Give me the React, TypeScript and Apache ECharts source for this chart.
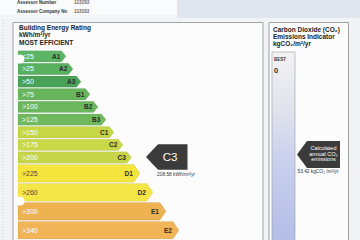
import React, { useEffect, useRef } from 'react';
import * as echarts from 'echarts';

// ---- data ----
const grades = ['A1', 'A2', 'A3', 'B1', 'B2', 'B3', 'C1', 'C2', 'C3', 'D1', 'D2', 'E1', 'E2'];
const thresholds = ['<25', '>25', '>50', '>75', '>100', '>125', '>150', '>175', '>200', '>225', '>260', '>300', '>340'];
const barLengths = [48, 55, 63, 72, 80, 88, 96, 105, 113.5, 122, 135, 148, 161];
const rating = 'C3';
const ratingValue = 208.58;
const co2Best = 0;
const co2Value = 53.42;

// ---- palette ----
const bandColors = ['#5cb565', '#58b060', '#48a258', '#68b65c', '#6cb75d', '#70b95f', '#c6d746', '#c9d846', '#c6d648', '#f4e53c', '#f5e647', '#efb251', '#f1b456'];

const FONT = '"Liberation Sans", Arial, sans-serif';
const rowWeight = (i: number) => (grades[i][0] >= 'D' ? 1.5 : 1);
const rowStart = (i: number) => {
  let s = 0;
  for (let k = 0; k < i; k++) s += rowWeight(k);
  return s;
};
const totalRows = grades.reduce((s, _, i) => s + rowWeight(i), 0);

export default function App() {
  const ref = useRef<HTMLDivElement>(null);
  useEffect(() => {
    if (!ref.current) return;
    const chart = echarts.init(ref.current, undefined, { renderer: 'svg' });
    const ratingIdx = grades.indexOf(rating);

    const option: any = {
      animation: false,
      backgroundColor: '#f1f3f6',
      grid: [
        { left: 18, top: 50, width: 330, height: totalRows * 12.65 },
        { left: 272, top: 52, width: 23, height: 188 },
      ],
      xAxis: [
        { type: 'value', min: 0, max: 330, show: false, gridIndex: 0 },
        { type: 'value', min: 0, max: 1, show: false, gridIndex: 1 },
      ],
      yAxis: [
        { type: 'value', min: 0, max: totalRows, inverse: true, show: false, gridIndex: 0 },
        { type: 'value', min: 0, max: 98, inverse: true, show: false, gridIndex: 1 },
      ],
      graphic: [
        // header
        { type: 'rect', shape: { x: 0, y: 0, width: 177, height: 15 }, style: { fill: '#fafbfc' }, z: 0 },
        { type: 'rect', shape: { x: 177, y: 0, width: 183, height: 18 }, style: { fill: '#dfe6ee' }, z: 0 },
        { type: 'line', shape: { x1: 3, y1: 20, x2: 3, y2: 240 }, style: { stroke: '#c3c7ce', lineWidth: 0.8, lineDash: [1, 2] }, z: 0 },
        { type: 'text', x: 17, y: 2.5, style: { text: 'Assessor Number', font: `bold 4.6px ${FONT}`, fill: '#333333', verticalAlign: 'middle' }, z: 1 },
        { type: 'text', x: 74, y: 2.5, style: { text: '103093', font: `4.6px ${FONT}`, fill: '#333333', verticalAlign: 'middle' }, z: 1 },
        { type: 'text', x: 17, y: 11, style: { text: 'Assessor Company No', font: `bold 4.6px ${FONT}`, fill: '#333333', verticalAlign: 'middle' }, z: 1 },
        { type: 'text', x: 74, y: 11, style: { text: '103093', font: `4.6px ${FONT}`, fill: '#333333', verticalAlign: 'middle' }, z: 1 },
        // panels
        { type: 'rect', shape: { x: 13, y: 22.5, width: 250, height: 240 }, style: { fill: '#fcfcfc', stroke: '#8c8c8c', lineWidth: 0.8 }, z: 0 },
        { type: 'rect', shape: { x: 269, y: 22.5, width: 79.5, height: 240 }, style: { fill: '#fcfcfc', stroke: '#8c8c8c', lineWidth: 0.8 }, z: 0 },
        // left panel titles
        { type: 'text', x: 19, y: 27, style: { text: 'Building Energy Rating', font: `bold 6.5px ${FONT}`, fill: '#222222', verticalAlign: 'middle' }, z: 1 },
        { type: 'text', x: 19, y: 34.5, style: { text: 'kWh/m²/yr', font: `bold 6.5px ${FONT}`, fill: '#222222', verticalAlign: 'middle' }, z: 1 },
        { type: 'text', x: 19, y: 42.5, style: { text: 'MOST EFFICIENT', font: `bold 6.5px ${FONT}`, fill: '#222222', verticalAlign: 'middle' }, z: 1 },
        // right panel titles
        { type: 'text', x: 273, y: 29, style: { text: 'Carbon Dioxide (CO₂)', font: `bold 6.5px ${FONT}`, fill: '#222222', verticalAlign: 'middle' }, z: 1 },
        { type: 'text', x: 273, y: 36, style: { text: 'Emissions Indicator', font: `bold 6.5px ${FONT}`, fill: '#222222', verticalAlign: 'middle' }, z: 1 },
        { type: 'text', x: 273, y: 43, style: { text: 'kgCO₂/m²/yr', font: `bold 6.5px ${FONT}`, fill: '#222222', verticalAlign: 'middle' }, z: 1 },
        // CO2 bar
        {
          type: 'rect', shape: { x: 272, y: 52, width: 23, height: 200 },
          style: {
            fill: new echarts.graphic.LinearGradient(0, 0, 0, 1, [
              { offset: 0, color: '#f3f3f5' },
              { offset: 0.3, color: '#e0e2ec' },
              { offset: 0.55, color: '#c9d0ee' },
              { offset: 1, color: '#b0bbe6' },
            ]),
            stroke: '#9a9aa6', lineWidth: 0.6,
          }, z: 1,
        },
        { type: 'text', x: 274, y: 59, style: { text: 'BEST', font: `bold 4.5px ${FONT}`, fill: '#333', verticalAlign: 'middle' }, z: 2 },
        { type: 'text', x: 274, y: 70, style: { text: String(co2Best), font: `bold 7.5px ${FONT}`, fill: '#333', verticalAlign: 'middle' }, z: 2 },
        // punch holes
        { type: 'circle', shape: { cx: 20, cy: 59, r: 4.5 }, style: { fill: '#ffffff' }, z: 100 },
        { type: 'circle', shape: { cx: 20, cy: 201, r: 4.5 }, style: { fill: '#ffffff' }, z: 100 },
      ],
      series: [
        {
          type: 'custom',
          xAxisIndex: 0,
          yAxisIndex: 0,
          data: barLengths.map((v, i) => [i, v]),
          renderItem: (params: any, api: any) => {
            const i = api.value(0);
            const len = api.value(1);
            const start = rowStart(i);
            const w = rowWeight(i);
            const p0 = api.coord([0, start]);
            const p1 = api.coord([len, start + w]);
            const x0 = p0[0];
            const xEnd = p1[0];
            const y0 = p0[1] + 0.65;
            const y1 = p1[1] - 0.65;
            const ym = (y0 + y1) / 2;
            const tip = 2 + (y1 - y0) * 0.23;
            const darkRange = grades[i][0] === 'D';
            return {
              type: 'group',
              children: [
                {
                  type: 'polygon',
                  shape: { points: [[x0, y0], [xEnd - tip, y0], [xEnd, ym], [xEnd - tip, y1], [x0, y1]] },
                  style: { fill: bandColors[i], stroke: 'rgba(0,0,0,0.12)', lineWidth: 0.5 },
                },
                {
                  type: 'text', x: x0 + 4, y: ym,
                  style: { text: thresholds[i], fill: darkRange ? '#4a4a3a' : '#ffffff', font: `7px ${FONT}`, align: 'left', verticalAlign: 'middle' },
                },
                {
                  type: 'text', x: xEnd - tip - 1, y: ym,
                  style: { text: grades[i], fill: '#2b2b2b', font: `bold 6.5px ${FONT}`, align: 'right', verticalAlign: 'middle' },
                },
              ],
            };
          },
          z: 3,
        },
        {
          type: 'custom',
          xAxisIndex: 0,
          yAxisIndex: 0,
          data: [[ratingIdx, ratingValue]],
          renderItem: (params: any, api: any) => {
            const i = api.value(0);
            const val = api.value(1);
            const c = api.coord([barLengths[i], rowStart(i) + rowWeight(i) / 2]);
            const xt = c[0] + 14.5;
            const ym = c[1] - 0.5;
            const h = 12.75;
            return {
              type: 'group',
              children: [
                {
                  type: 'polygon',
                  shape: { points: [[xt, ym], [xt + 12, ym - h], [xt + 41.5, ym - h], [xt + 41.5, ym + h], [xt + 12, ym + h]] },
                  style: { fill: '#3b3b3b' },
                },
                {
                  type: 'text', x: xt + 24, y: ym,
                  style: { text: grades[i], fill: '#ffffff', font: `11.5px ${FONT}`, align: 'center', verticalAlign: 'middle' },
                },
                {
                  type: 'text', x: xt + 30, y: ym + 17.5,
                  style: { text: `${val.toFixed(2)} kWh/m²/yr`, fill: '#333333', font: `4.8px ${FONT}`, align: 'center', verticalAlign: 'middle' },
                },
              ],
            };
          },
          z: 4,
        },
        {
          type: 'custom',
          xAxisIndex: 1,
          yAxisIndex: 1,
          data: [[1, co2Value]],
          renderItem: (params: any, api: any) => {
            const val = api.value(1);
            const c = api.coord([api.value(0), val]);
            const xt = c[0] + 2;
            const ym = c[1];
            const h = 13.4;
            return {
              type: 'group',
              children: [
                {
                  type: 'polygon',
                  shape: { points: [[xt, ym], [xt + 10, ym - h], [xt + 43, ym - h], [xt + 43, ym + h], [xt + 10, ym + h]] },
                  style: { fill: '#3b3b3b' },
                },
                { type: 'text', x: xt + 26.5, y: ym - 6.5, style: { text: 'Calculated', fill: '#ffffff', font: `5.5px ${FONT}`, align: 'center', verticalAlign: 'middle' } },
                { type: 'text', x: xt + 26.5, y: ym - 0.5, style: { text: 'annual CO₂', fill: '#ffffff', font: `5.5px ${FONT}`, align: 'center', verticalAlign: 'middle' } },
                { type: 'text', x: xt + 26.5, y: ym + 5, style: { text: 'emissions', fill: '#ffffff', font: `5.5px ${FONT}`, align: 'center', verticalAlign: 'middle' } },
                { type: 'text', x: xt + 21, y: ym + 17.5, style: { text: `${val.toFixed(2)} kgCO₂ /m²/yr`, fill: '#333333', font: `4.8px ${FONT}`, align: 'center', verticalAlign: 'middle' } },
              ],
            };
          },
          z: 4,
        },
      ],
    };
    chart.setOption(option);
    return () => chart.dispose();
  }, []);
  return <div ref={ref} style={{ position: 'fixed', left: 0, top: 0, width: 360, height: 240 }} />;
}
